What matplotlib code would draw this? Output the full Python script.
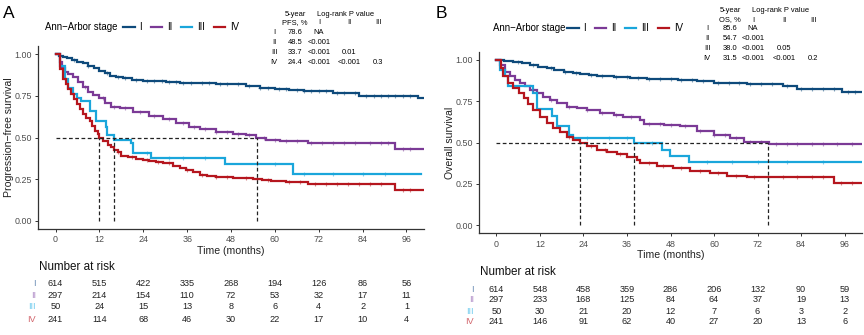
import numpy as np
import matplotlib
matplotlib.use('Agg')
import matplotlib.pyplot as plt
from matplotlib.lines import Line2D

plt.rcParams['font.family'] = ['Liberation Sans', 'DejaVu Sans']

# ---------------- data ----------------
groups = ['I', 'II', 'III', 'IV']
colors = ['#0E4A7B', '#7B3A96', '#1AA6DB', '#B5161E']
risk_label_colors = ['#6A8DB5', '#AE8AC6', '#6FCBEE', '#D2666D']
x_ticks = [0, 12, 24, 36, 48, 60, 72, 84, 96]
y_ticks = [0.00, 0.25, 0.50, 0.75, 1.00]

# Panel A: progression-free survival (step times, survival, end of follow-up)
pfs_I_t = [0, 1, 2, 3, 4.5, 6, 7.5, 9, 10.5, 12, 13.5, 15, 16.6, 18.5, 21, 24, 27, 30.3, 34, 39.4, 44, 48.5, 52, 55.8, 60, 64, 68, 75.8, 80, 83.1, 99.1]
pfs_I_s = [1, 0.99, 0.985, 0.975, 0.965, 0.955, 0.945, 0.93, 0.915, 0.9, 0.885, 0.872, 0.862, 0.855, 0.846, 0.842, 0.838, 0.835, 0.83, 0.826, 0.822, 0.82, 0.81, 0.796, 0.79, 0.786, 0.78, 0.77, 0.765, 0.752, 0.736]
pfs_II_t = [0, 1.1, 1.8, 2.5, 3.4, 4.7, 6.1, 7.5, 8.8, 10.2, 12.0, 13.4, 15.2, 17.5, 21.1, 25.7, 29.4, 33.0, 36.6, 39.4, 43.9, 48.5, 52.2, 54.9, 57.6, 61.3, 69.0, 93.0]
pfs_II_s = [1, 0.956, 0.916, 0.896, 0.88, 0.866, 0.836, 0.806, 0.776, 0.756, 0.736, 0.706, 0.686, 0.676, 0.656, 0.63, 0.61, 0.586, 0.566, 0.55, 0.536, 0.52, 0.516, 0.50, 0.486, 0.476, 0.466, 0.43]
pfs_III_t = [0, 1.1, 2.7, 3.4, 4.7, 6.0, 7.0, 9.3, 11.1, 13.7, 14.1, 16.1, 20.7, 21.2, 26.2, 46.3, 64.9]
pfs_III_s = [1, 0.93, 0.85, 0.80, 0.76, 0.74, 0.72, 0.66, 0.60, 0.566, 0.516, 0.486, 0.466, 0.406, 0.376, 0.34, 0.282]
pfs_IV_t = [0, 1.1, 2.0, 2.8, 3.5, 4.3, 5.0, 5.8, 6.6, 7.5, 8.4, 9.3, 10.0, 10.8, 11.6, 12.0, 13.0, 14.3, 15.2, 16.1, 17.0, 18.0, 19.8, 22.0, 24.0, 25.7, 27.5, 29.5, 32.1, 34.0, 35.7, 37.6, 39.4, 41.5, 43.9, 48.5, 53.9, 56.5, 59.0, 63.1, 69.0, 93.0]
pfs_IV_s = [1.0, 0.91, 0.85, 0.82, 0.79, 0.76, 0.73, 0.70, 0.67, 0.64, 0.62, 0.60, 0.57, 0.54, 0.52, 0.50, 0.477, 0.456, 0.442, 0.426, 0.41, 0.39, 0.38, 0.37, 0.365, 0.36, 0.355, 0.345, 0.326, 0.316, 0.306, 0.29, 0.276, 0.268, 0.262, 0.254, 0.252, 0.245, 0.24, 0.23, 0.22, 0.186]
pfs_end = [100.6, 100.6, 99.9, 100.6]

# Panel B: overall survival
os_I_t = [0, 2, 4.7, 7, 9.3, 11.5, 13.9, 16, 18.5, 21, 23.1, 25.5, 27.7, 32.3, 36.9, 41.5, 50, 55.3, 59.9, 69.1, 79.0, 82.9, 95.3]
os_I_s = [1, 0.995, 0.99, 0.98, 0.97, 0.96, 0.95, 0.94, 0.929, 0.92, 0.915, 0.908, 0.903, 0.895, 0.889, 0.885, 0.877, 0.872, 0.859, 0.852, 0.843, 0.826, 0.808]
os_II_t = [0, 1, 2.4, 3.8, 5.1, 6.5, 7.9, 9.3, 11.1, 12.9, 14.8, 16.6, 19.4, 22.2, 24.9, 28.6, 32.3, 35.0, 39.5, 40.6, 46.1, 50.7, 55.3, 59.9, 64.5, 68.2, 75.1]
os_II_s = [1, 0.97, 0.93, 0.90, 0.88, 0.86, 0.84, 0.818, 0.798, 0.778, 0.758, 0.738, 0.718, 0.708, 0.698, 0.677, 0.667, 0.657, 0.637, 0.613, 0.607, 0.597, 0.567, 0.546, 0.526, 0.503, 0.488]
os_III_t = [0, 1.0, 2.4, 3.3, 10.2, 11.1, 15.3, 16.6, 19.9, 21.2, 38.0, 45.6, 47.9, 53.0]
os_III_s = [1, 0.94, 0.90, 0.84, 0.80, 0.70, 0.66, 0.60, 0.546, 0.526, 0.50, 0.455, 0.42, 0.38]
os_IV_t = [0, 1.2, 1.9, 3.3, 4.7, 6.1, 7.5, 8.8, 10.2, 12.0, 13.9, 15.7, 17.6, 19.4, 21.2, 23.1, 24.9, 27.7, 30.4, 33.2, 35.9, 38.7, 39.7, 44.2, 48.8, 53.4, 58.9, 63.5, 69.0, 93.0]
os_IV_s = [1, 0.95, 0.90, 0.86, 0.83, 0.80, 0.768, 0.732, 0.698, 0.657, 0.617, 0.587, 0.562, 0.536, 0.516, 0.497, 0.476, 0.456, 0.441, 0.429, 0.415, 0.395, 0.375, 0.355, 0.345, 0.325, 0.315, 0.298, 0.288, 0.254]
os_end = [100.9, 100.9, 100.9, 100.9]

# censoring times
pfs_I_c = [5, 9, 14, 17, 19, 22, 25, 27, 29, 31, 33, 35, 37, 40, 42, 45, 47, 50, 53, 56, 58, 61, 63, 66, 68, 70, 72, 74, 77, 79, 82, 85, 87, 89, 91, 93, 95, 97]
pfs_II_c = [8, 13, 16, 19, 23, 27, 31, 35, 38, 41, 44, 47, 50, 53, 57, 60, 63, 66, 70, 73, 76, 79, 82, 86, 89, 91, 95, 97]
pfs_III_c = [25, 31, 35, 41, 55, 60, 68, 76, 84, 90]
pfs_IV_c = [17, 21, 25, 28, 31, 36, 40, 44, 47, 52, 55, 58, 64, 67, 71, 74, 77, 80, 83, 86, 89, 95, 97]
os_I_c = [6, 10, 15, 19, 22, 26, 29, 33, 36, 39, 42, 45, 48, 51, 54, 57, 61, 64, 67, 70, 73, 76, 80, 84, 87, 90, 93, 97, 99]
os_II_c = [10, 15, 20, 25, 29, 33, 37, 42, 45, 48, 52, 56, 60, 63, 66, 70, 73, 77, 80, 83, 87, 90, 94, 98]
os_III_c = [25, 31, 36, 43, 58, 65, 72, 80, 90]
os_IV_c = [20, 26, 30, 34, 42, 46, 51, 56, 61, 66, 71, 75, 79, 83, 87, 90, 95, 98]

pfs_medians = [12, 16, 55]
os_medians = [23, 38, 75]

pfs_risk_I = [614, 515, 422, 335, 268, 194, 126, 86, 56]
pfs_risk_II = [297, 214, 154, 110, 72, 53, 32, 17, 11]
pfs_risk_III = [50, 24, 15, 13, 8, 6, 4, 2, 1]
pfs_risk_IV = [241, 114, 68, 46, 30, 22, 17, 10, 4]
os_risk_I = [614, 548, 458, 359, 286, 206, 132, 90, 59]
os_risk_II = [297, 233, 168, 125, 84, 64, 37, 19, 13]
os_risk_III = [50, 30, 21, 20, 12, 7, 6, 3, 2]
os_risk_IV = [241, 146, 91, 62, 40, 27, 20, 13, 6]

pfs_5yr = ['78.6', '48.5', '33.7', '24.4']
pfs_p_I = ['NA', '', '']
pfs_p_II = ['<0.001', '', '']
pfs_p_III = ['<0.001', '0.01', '']
pfs_p_IV = ['<0.001', '<0.001', '0.3']
os_5yr = ['85.6', '54.7', '38.0', '31.5']
os_p_I = ['NA', '', '']
os_p_II = ['<0.001', '', '']
os_p_III = ['<0.001', '0.05', '']
os_p_IV = ['<0.001', '<0.001', '0.2']

# ---------------- figure ----------------
W, H = 864, 335
fig = plt.figure(figsize=(W / 100, H / 100), dpi=100)


def fx(px):
    return px / W


def fy(py):
    return 1 - py / H


def draw_panel(ax, ts, ss, ends, cens, medians, ylabel):
    for t, s, e, c, col in zip(ts, ss, ends, cens, colors):
        tt = list(t) + [e]
        sv = list(s) + [s[-1]]
        ax.step(tt, sv, where='post', color=col, lw=1.6, zorder=3, solid_joinstyle='miter')
        idx = np.searchsorted(np.array(t), np.array(c), side='right') - 1
        cy = np.array(s)[idx]
        ax.plot(c, cy, ls='none', marker='|', ms=3.4, mew=0.8, color=col, alpha=0.5, zorder=4)
        ax.plot(c, cy, ls='none', marker='_', ms=3.4, mew=0.8, color=col, alpha=0.5, zorder=4)
    ax.plot([0, max(medians)], [0.5, 0.5], ls=(0, (3, 2)), color='#222222', lw=0.9, zorder=5)
    for m in medians:
        ax.plot([m, m], [0, 0.5], ls=(0, (3, 2)), color='#222222', lw=0.9, zorder=5)
    ax.set_xlim(-4.8, 100.8)
    ax.set_ylim(-0.05, 1.05)
    ax.set_xticks(x_ticks)
    ax.set_yticks(y_ticks)
    ax.set_yticklabels(['%.2f' % v for v in y_ticks])
    for sp in ['top', 'right']:
        ax.spines[sp].set_visible(False)
    for sp in ['left', 'bottom']:
        ax.spines[sp].set_color('#333333')
        ax.spines[sp].set_linewidth(0.9)
    ax.tick_params(axis='both', length=2.5, width=0.7, color='#333333',
                   labelsize=6.4, labelcolor='#4D4D4D', pad=2)
    ax.set_xlabel('Time (months)', fontsize=7.6, labelpad=1, color='#222222')
    ax.set_ylabel(ylabel, fontsize=7.6, labelpad=0.5, color='#222222')


def risk_table(ax, rows, ylist, label_x, title_y):
    ax.text(0.003, title_y, 'Number at risk', transform=ax.transAxes, fontsize=8.4,
            ha='left', va='center', color='#111111')
    trans = matplotlib.transforms.blended_transform_factory(ax.transData, ax.transAxes)
    for vals, g, lc, yy in zip(rows, groups, risk_label_colors, ylist):
        ax.text(label_x, yy, g, transform=ax.transAxes, fontsize=6.6, ha='right',
                va='center', color=lc)
        for xv, v in zip(x_ticks, vals):
            ax.text(xv, yy, str(v), transform=trans, fontsize=6.6, ha='center',
                    va='center', color='#222222')


def stats_table(col_label, rows_y, head_y, rowlab_x, val_x, p_x, lr_x, vals, prows, fs=5.4):
    fig.text(fx(val_x), fy(head_y[0]), '5-year', fontsize=fs, ha='center', va='center')
    fig.text(fx(val_x), fy(head_y[1]), col_label, fontsize=fs, ha='center', va='center')
    fig.text(fx(lr_x), fy(head_y[0]), 'Log-rank P value', fontsize=fs, ha='left', va='center')
    for g, px in zip(groups[:3], p_x):
        fig.text(fx(px), fy(head_y[1]), g, fontsize=fs, ha='center', va='center')
    for g, v, pr, yy in zip(groups, vals, prows, rows_y):
        fig.text(fx(rowlab_x), fy(yy), g, fontsize=fs, ha='center', va='center')
        fig.text(fx(val_x), fy(yy), v, fontsize=fs, ha='center', va='center')
        for p, px in zip(pr, p_x):
            if p:
                fig.text(fx(px), fy(yy), p, fontsize=fs, ha='center', va='center')


# Panel A
axA = fig.add_axes([fx(38), fy(229), fx(424 - 38), (229 - 46) / H])
draw_panel(axA, [pfs_I_t, pfs_II_t, pfs_III_t, pfs_IV_t],
           [pfs_I_s, pfs_II_s, pfs_III_s, pfs_IV_s], pfs_end,
           [pfs_I_c, pfs_II_c, pfs_III_c, pfs_IV_c], pfs_medians,
           'Progression\u2212free survival')
risk_table(axA, [pfs_risk_I, pfs_risk_II, pfs_risk_III, pfs_risk_IV],
           [-0.300, -0.366, -0.426, -0.492], -0.006, -0.208)

# Panel B
axB = fig.add_axes([fx(479), fy(233.3), fx(862 - 479), (233.3 - 51.7) / H])
draw_panel(axB, [os_I_t, os_II_t, os_III_t, os_IV_t],
           [os_I_s, os_II_s, os_III_s, os_IV_s], os_end,
           [os_I_c, os_II_c, os_III_c, os_IV_c], os_medians,
           'Overall survival')
risk_table(axB, [os_risk_I, os_risk_II, os_risk_III, os_risk_IV],
           [-0.307, -0.367, -0.428, -0.488], -0.013, -0.213)

# Panel letters
fig.text(fx(9), fy(13), 'A', fontsize=12.5, ha='center', va='center')
fig.text(fx(441), fy(13), 'B', fontsize=12.5, ha='center', va='center')

# Legends
handles = [Line2D([], [], color=c, lw=1.6) for c in colors]
for tx, lx, ly in [(45, 123, 27), (493, 567, 28)]:
    fig.text(fx(tx), fy(ly), 'Ann\u2212Arbor stage', fontsize=6.9, ha='left', va='center')
    fig.legend(handles, groups, loc='center left', bbox_to_anchor=(fx(lx), fy(ly)),
               ncol=4, frameon=False, fontsize=6.9, handlelength=1.2,
               handletextpad=0.5, columnspacing=0.9, borderpad=0, borderaxespad=0)

# Stats tables
stats_table('PFS, %', [32, 42, 52, 62], [14, 23], 274, 295, [319, 349, 378], 317,
            pfs_5yr, [pfs_p_I, pfs_p_II, pfs_p_III, pfs_p_IV])
stats_table('OS, %', [29, 39, 48, 58], [11, 20], 707, 730, [753, 784, 813], 752,
            os_5yr, [os_p_I, os_p_II, os_p_III, os_p_IV])

fig.savefig('out.png', dpi=100)
